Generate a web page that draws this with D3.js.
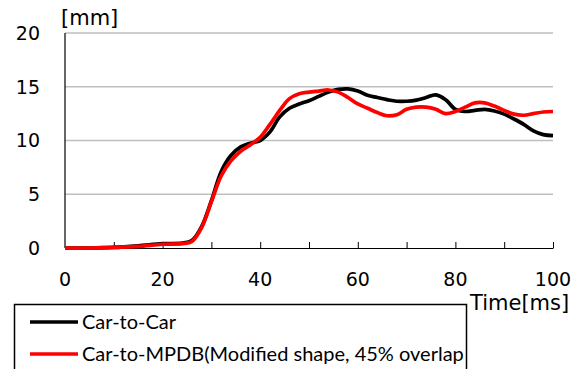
<!DOCTYPE html>
<html>
<head>
<meta charset="utf-8">
<script src="https://cdn.jsdelivr.net/npm/d3@7"></script>
<style>
  body { margin: 0; background: #fff; }
  svg { display: block; }
  .num { font-family: "DejaVu Sans", sans-serif; font-size: 19px; fill: #000; }
  .title { font-family: "DejaVu Sans", sans-serif; font-size: 21px; fill: #000; }
  .leg { font-family: Lato, "Open Sans", sans-serif; font-size: 20px; fill: #000; }
</style>
</head>
<body>
<div id="chart"></div>
<script>
// time [ms]
const carTime = [0, 5, 10, 15, 20, 24, 26, 28, 30, 32, 34, 36, 38, 40, 42, 44, 46, 48, 50, 52, 54, 56, 58, 60,
  62, 64, 66, 68, 70, 72, 74, 76, 78, 80, 82, 84, 86, 88, 90, 92, 94, 96, 98, 100];
// Car-to-Car [mm]
const carToCar = [0, 0, 0.05, 0.2, 0.4, 0.45, 0.7, 2.0, 4.4, 7.1, 8.6, 9.4, 9.75, 10.0, 10.8, 12.2, 13.0, 13.4, 13.7, 14.1, 14.5, 14.75, 14.8, 14.6,
  14.2, 14.0, 13.8, 13.65, 13.65, 13.75, 14.0, 14.25, 13.8, 12.9, 12.7, 12.8, 12.9, 12.75, 12.45, 12.0, 11.5, 10.9, 10.55, 10.45];
// Car-to-MPDB [mm]
const carToMpdb = [0, 0, 0.05, 0.15, 0.35, 0.4, 0.6, 1.9, 4.3, 6.7, 8.1, 9.0, 9.6, 10.3, 11.5, 12.8, 13.9, 14.35, 14.5, 14.6, 14.7, 14.5, 14.0, 13.4,
  13.0, 12.6, 12.3, 12.4, 12.9, 13.1, 13.1, 12.9, 12.5, 12.7, 13.1, 13.5, 13.5, 13.2, 12.8, 12.45, 12.35, 12.5, 12.65, 12.7];

const xTicks = [0, 20, 40, 60, 80, 100];
const xMinorTicks = [10, 20, 30, 40, 50, 60, 70, 80, 90, 100];
const yTicks = [0, 5, 10, 15, 20];
const seriesNames = ['Car-to-Car', 'Car-to-MPDB(Modified shape, 45% overlap'];
const seriesColors = ['#000000', '#ff0000'];

const W = 582, H = 369;
const margin = { left: 65, right: 29, top: 33, bottom: 121 };
const width = W - margin.left - margin.right;
const height = H - margin.top - margin.bottom;

const svg = d3.select('#chart').append('svg')
  .attr('width', W)
  .attr('height', H);

const g = svg.append('g')
  .attr('transform', `translate(${margin.left},${margin.top})`);

const x = d3.scaleLinear().domain([0, 100]).range([0, width]);
const y = d3.scaleLinear().domain([0, 20]).range([height, 0]);

// grid
g.append('g')
  .selectAll('line')
  .data(yTicks.filter(d => d > 0))
  .enter()
  .append('line')
  .attr('x1', 0)
  .attr('x2', width)
  .attr('y1', d => y(d))
  .attr('y2', d => y(d))
  .attr('stroke', '#bfbfbf')
  .attr('stroke-width', 1.5);

// y labels
g.append('g')
  .selectAll('text')
  .data(yTicks)
  .enter()
  .append('text')
  .attr('class', 'num')
  .attr('x', -25)
  .attr('y', d => y(d))
  .attr('dy', '0.36em')
  .attr('text-anchor', 'end')
  .text(d => d);

// x axis
const xAxis = d3.axisBottom(x)
  .tickValues(xMinorTicks)
  .tickSizeInner(-6)
  .tickSizeOuter(0)
  .tickFormat('');
const ax = g.append('g')
  .attr('transform', `translate(0,${height})`)
  .call(xAxis);
ax.select('.domain').attr('stroke', '#000').attr('stroke-width', 1.2);
ax.selectAll('.tick line').attr('stroke', '#000').attr('stroke-width', 1);

g.append('g')
  .selectAll('text')
  .data(xTicks)
  .enter()
  .append('text')
  .attr('class', 'num')
  .attr('x', d => x(d))
  .attr('y', height + 38)
  .attr('text-anchor', 'middle')
  .text(d => d);

// y axis line
g.append('line')
  .attr('x1', 0).attr('x2', 0)
  .attr('y1', y(20)).attr('y2', y(0))
  .attr('stroke', '#000')
  .attr('stroke-width', 1.2);

// lines
const line = d3.line()
  .x((d, i) => x(carTime[i]))
  .y(d => y(d))
  .curve(d3.curveCatmullRom.alpha(0.5));

[carToCar, carToMpdb].forEach((s, i) => {
  g.append('path')
    .datum(s)
    .attr('d', line)
    .attr('fill', 'none')
    .attr('stroke', seriesColors[i])
    .attr('stroke-width', 3.7)
    .attr('stroke-linejoin', 'round');
});

// axis titles
svg.append('text')
  .attr('class', 'title')
  .attr('x', 61)
  .attr('y', 25)
  .text('[mm]');

svg.append('text')
  .attr('class', 'title')
  .attr('x', 470)
  .attr('y', 310)
  .text('Time[ms]');

// legend
const legend = svg.append('g');
legend.append('rect')
  .attr('x', 14.5)
  .attr('y', 304.5)
  .attr('width', 452)
  .attr('height', 80)
  .attr('fill', '#fff')
  .attr('stroke', '#000')
  .attr('stroke-width', 1.5);

seriesNames.forEach((name, i) => {
  const ly = 322 + i * 32;
  legend.append('line')
    .attr('x1', 30).attr('x2', 78)
    .attr('y1', ly).attr('y2', ly)
    .attr('stroke', seriesColors[i])
    .attr('stroke-width', 3.5);
  legend.append('text')
    .attr('class', 'leg')
    .attr('x', 82)
    .attr('y', ly)
    .attr('dy', '0.35em')
    .text(name);
});
</script>
</body>
</html>
